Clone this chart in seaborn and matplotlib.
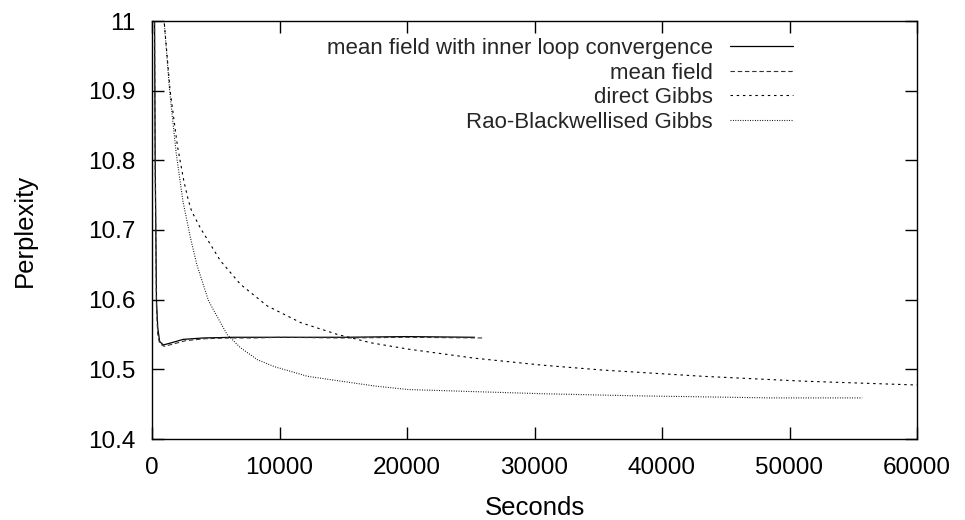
import numpy as np
import pandas as pd
import matplotlib
matplotlib.use("Agg")
import matplotlib.pyplot as plt
import seaborn as sns

# ---- data ----
mf_inner_t = [0, 150, 250, 350, 450, 600, 890, 1500, 2450, 4000, 6390, 8000, 10000, 15000, 20000, 25300]
mf_inner_v = [12.5, 11.2, 10.8, 10.6, 10.56, 10.54, 10.535, 10.538, 10.543, 10.545, 10.546, 10.546, 10.546, 10.546, 10.547, 10.546]

mf_t = [0, 150, 250, 350, 450, 600, 950, 1600, 2600, 4200, 6000, 8000, 10000, 15000, 20000, 26100]
mf_v = [12.5, 11.2, 10.79, 10.59, 10.55, 10.537, 10.533, 10.536, 10.541, 10.544, 10.545, 10.545, 10.546, 10.545, 10.546, 10.545]

dg_t = [700, 950, 1420, 2000, 2500, 2860, 3110, 3790, 5360, 6940, 9040, 11670, 14560, 17190, 20100,
        25300, 30600, 35300, 43200, 51100, 60000]
dg_v = [11.2, 11.0, 10.9, 10.82, 10.77, 10.742, 10.727, 10.703, 10.656, 10.622, 10.591, 10.567, 10.550, 10.538, 10.529,
        10.516, 10.506, 10.499, 10.490, 10.483, 10.4775]

rb_t = [700, 950, 1380, 1900, 2420, 3000, 3520, 4440, 5890, 6940, 8250, 9570, 12200, 14830, 17500, 20090,
        25300, 30600, 37900, 48500, 55700]
rb_v = [11.3, 11.0, 10.9, 10.81, 10.742, 10.690, 10.650, 10.598, 10.550, 10.531, 10.514, 10.504, 10.490, 10.483, 10.476, 10.471,
        10.468, 10.465, 10.462, 10.459, 10.459]

labels = ["mean field with inner loop convergence", "mean field", "direct Gibbs", "Rao-Blackwellised Gibbs"]
x_ticks = [0, 10000, 20000, 30000, 40000, 50000, 60000]
y_ticks = [10.4, 10.5, 10.6, 10.7, 10.8, 10.9, 11.0]
y_ticklabels = ["10.4", "10.5", "10.6", "10.7", "10.8", "10.9", "11"]

sns.set_theme(style="ticks")
plt.rcParams['font.family'] = ['Liberation Sans', 'DejaVu Sans']

fig = plt.figure(figsize=(9.65, 5.2), dpi=100)
W, H = 965, 520
L, R, T, B = 152, 917, 21, 439
ax = fig.add_axes([L / W, 1 - B / H, (R - L) / W, (B - T) / H])

series = [(mf_inner_t, mf_inner_v), (mf_t, mf_v), (dg_t, dg_v), (rb_t, rb_v)]
styles = [dict(linestyle="-", color="black", lw=0.9),
          dict(linestyle=(0, (4.0, 2.5)), color="#333333", lw=0.8),
          dict(linestyle=(0, (2.2, 3.4)), color="black", lw=0.8),
          dict(linestyle=(0, (0.8, 1.4)), color="black", lw=0.8)]

for (t, v), lab, st in zip(series, labels, styles):
    df = pd.DataFrame({"Seconds": t, "Perplexity": v})
    sns.lineplot(data=df, x="Seconds", y="Perplexity", ax=ax, label=lab,
                 estimator=None, sort=False, **st)

ax.set_xlim(0, 60000)
ax.set_ylim(10.4, 11.0)
ax.set_xticks(x_ticks)
ax.set_xticklabels([str(x) for x in x_ticks])
ax.set_yticks(y_ticks)
ax.set_yticklabels(y_ticklabels)
ax.tick_params(direction="in", length=8.6, width=1.0, top=True, right=True,
               labelsize=17.5, colors="black")
ax.tick_params(axis="x", pad=13)
ax.tick_params(axis="y", pad=12)
for s in ax.spines.values():
    s.set_visible(True)
    s.set_linewidth(1.0)
    s.set_color("black")
ax.set_xlabel("Seconds", fontsize=18.5, labelpad=12, color="black")
ax.set_ylabel("Perplexity", fontsize=18.5, labelpad=37, color="black")
ax.set_facecolor("white")

leg = ax.legend(loc="upper right", bbox_to_anchor=(793 / W, 1 - 38 / H),
                bbox_transform=fig.transFigure, frameon=False, markerfirst=False,
                fontsize=16, handlelength=2.85, handletextpad=0.77, labelspacing=0.16,
                borderaxespad=0, borderpad=0)

fig.savefig("out.png", dpi=100, facecolor="white")
